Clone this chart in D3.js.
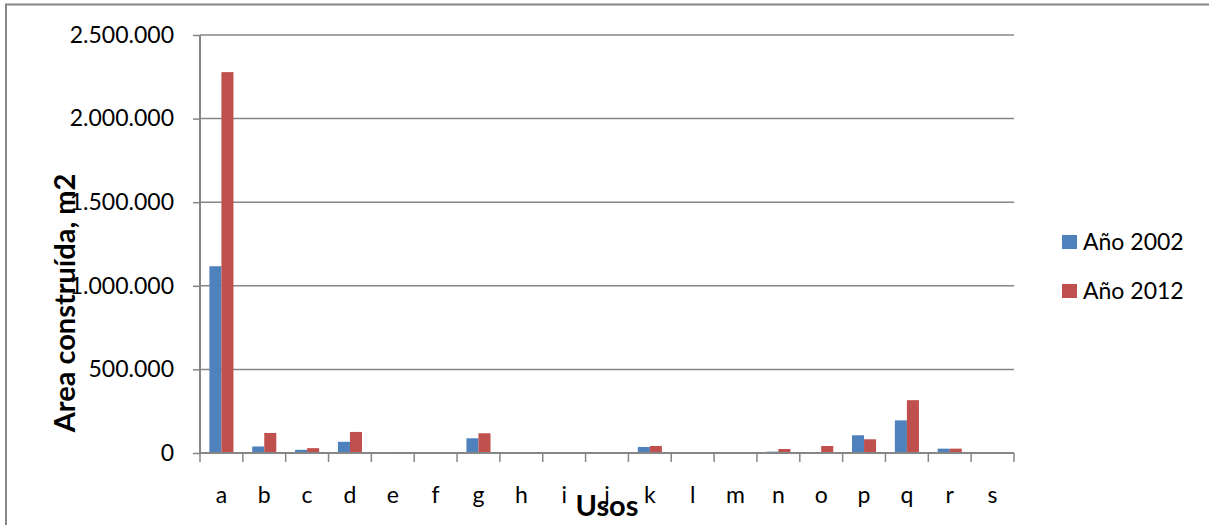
<!DOCTYPE html>
<html>
<head>
<meta charset="utf-8">
<script src="https://cdn.jsdelivr.net/npm/d3@7"></script>
<style>
  html, body { margin: 0; padding: 0; background: #fff; }
  svg { display: block; }
  text { font-family: Lato, "Open Sans", sans-serif; fill: #000; }
</style>
</head>
<body>
<svg id="chart" width="1209" height="525"></svg>
<script>
const categories = ["a","b","c","d","e","f","g","h","i","j","k","l","m","n","o","p","q","r","s"];
const seriesNames = ["Año 2002", "Año 2012"];
const values2002 = [1117000, 39000, 19000, 67000, 5000, 0, 88000, 0, 0, 0, 36000, 0, 2000, 8000, 0, 106000, 195000, 26000, 0];
const values2012 = [2278000, 120000, 29000, 126000, 6000, 0, 118000, 0, 0, 0, 42000, 5000, 2000, 24000, 42000, 82000, 316000, 26000, 0];
const yTicks = [0, 500000, 1000000, 1500000, 2000000, 2500000];
const yTitle = "Area construída, m2";
const xTitle = "Usos";

const colors = ["#4F81BD", "#C0504D"];
const svg = d3.select("#chart");

// outer chart border
svg.append("rect").attr("x", 6).attr("y", 4.5).attr("width", 1220).attr("height", 540)
  .attr("fill", "none").attr("stroke", "#868686").attr("stroke-width", 2);

const pLeft = 200, pRight = 1014, pTop = 35, pBottom = 453;
const x = d3.scaleBand().domain(categories).range([pLeft, pRight]).paddingInner(0).paddingOuter(0);
const y = d3.scaleLinear().domain([0, 2500000]).range([pBottom, pTop]);
const inner = d3.scaleBand().domain(seriesNames).range([0, x.bandwidth()]).paddingInner(0).paddingOuter(0.78);

const fmt = v => d3.format(",")(v).replace(/,/g, ".");

// gridlines
svg.append("g").selectAll("line").data(yTicks.filter(d => d > 0)).join("line")
  .attr("x1", pLeft).attr("x2", pRight)
  .attr("y1", d => y(d)).attr("y2", d => y(d))
  .attr("stroke", "#868686").attr("stroke-width", 1.5);

// bars
const data = categories.map((c, i) => ({c, vals: [values2002[i], values2012[i]]}));
const groups = svg.append("g").selectAll("g").data(data).join("g")
  .attr("transform", d => `translate(${x(d.c)},0)`);
groups.selectAll("rect").data(d => d.vals.map((v, k) => ({v, k}))).join("rect")
  .attr("x", d => inner(seriesNames[d.k]))
  .attr("width", inner.bandwidth())
  .attr("y", d => y(d.v))
  .attr("height", d => pBottom - y(d.v))
  .attr("fill", d => colors[d.k]);

// y axis
const yAxis = d3.axisLeft(y).tickValues(yTicks).tickFormat(fmt).tickSize(7).tickPadding(19);
const gy = svg.append("g").attr("transform", `translate(${pLeft},0)`).call(yAxis);
gy.select(".domain").attr("stroke", "#868686").attr("stroke-width", 2).attr("d", `M0,${pTop}V${pBottom}`);
gy.selectAll(".tick line").attr("stroke", "#868686").attr("stroke-width", 1.5);
gy.selectAll(".tick text").attr("font-size", 23).attr("font-family", "Lato").attr("fill", "#000");

// x axis
const xAxis = d3.axisBottom(x).tickSize(0).tickPadding(34);
const gx = svg.append("g").attr("transform", `translate(0,${pBottom})`).call(xAxis);
gx.select(".domain").attr("stroke", "#868686").attr("stroke-width", 2).attr("d", `M${pLeft},0H${pRight}`);
gx.selectAll(".tick text").attr("font-size", 23).attr("font-family", "Lato").attr("fill", "#000");
// boundary ticks
const bounds = categories.map(c => x(c)).concat([pRight]);
svg.append("g").selectAll("line").data(bounds).join("line")
  .attr("x1", d => d).attr("x2", d => d).attr("y1", pBottom).attr("y2", pBottom + 9)
  .attr("stroke", "#868686").attr("stroke-width", 1.5);

// axis titles
svg.append("text").attr("transform", `translate(75,${303}) rotate(-90)`)
  .attr("text-anchor", "middle").attr("font-size", 29).attr("font-weight", "bold").text(yTitle);
svg.append("text").attr("x", (pLeft + pRight) / 2).attr("y", 516)
  .attr("text-anchor", "middle").attr("font-size", 29).attr("font-weight", "bold").text(xTitle);

// legend
const legend = svg.append("g").selectAll("g").data(seriesNames).join("g")
  .attr("transform", (d, i) => `translate(1062,${235 + i * 49})`);
legend.append("rect").attr("width", 15).attr("height", 14).attr("fill", (d, i) => colors[i]);
legend.append("text").attr("x", 21).attr("y", 7).attr("dy", "0.35em")
  .attr("font-size", 23).text(d => d);
</script>
</body>
</html>
